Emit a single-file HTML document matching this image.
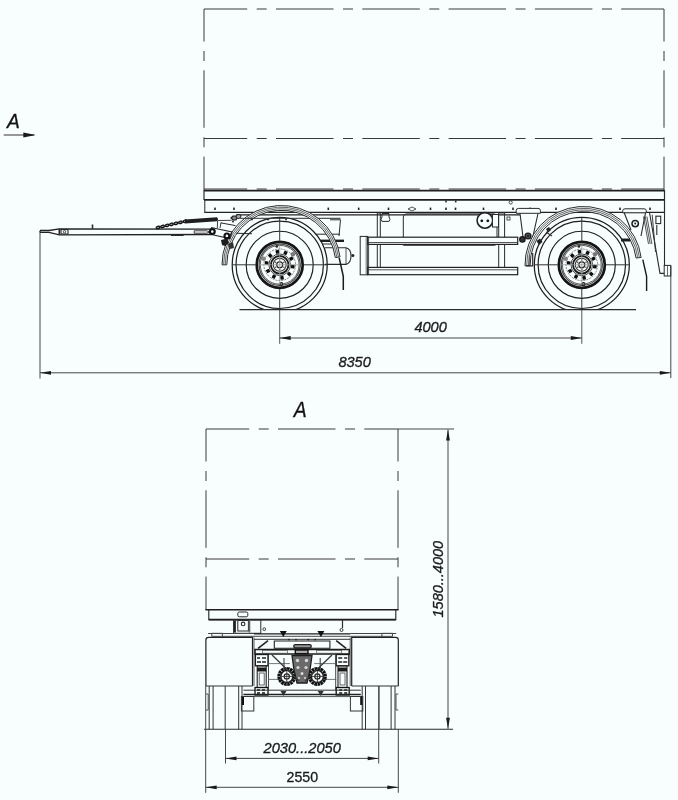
<!DOCTYPE html>
<html><head><meta charset="utf-8"><style>
html,body{margin:0;padding:0;background:#f8fdfd;}
svg{display:block;font-family:"Liberation Sans",sans-serif;will-change:transform;}
</style></head><body>
<svg width="678" height="800" viewBox="0 0 678 800">
<defs><clipPath id="gnd"><rect x="0" y="0" width="678" height="309.6"/></clipPath><clipPath id="gnd2"><rect x="0" y="0" width="678" height="729.3"/></clipPath></defs>
<line x1="204" y1="9" x2="664" y2="9" stroke="#3a3a3a" stroke-width="1" stroke-dasharray="57.5 9.5 10 9.3" stroke-dashoffset="14.3"/>
<line x1="204" y1="138.5" x2="664" y2="138.5" stroke="#3a3a3a" stroke-width="1" stroke-dasharray="57.5 9.5 10 9.3" stroke-dashoffset="14.3"/>
<line x1="204" y1="189" x2="664" y2="189" stroke="#3a3a3a" stroke-width="1" stroke-dasharray="57.5 9.5 10 9.3" stroke-dashoffset="14.3"/>
<line x1="204" y1="9" x2="204" y2="190" stroke="#3a3a3a" stroke-width="1" stroke-dasharray="57.5 9.5 10 9.3" stroke-dashoffset="25"/>
<line x1="664" y1="9" x2="664" y2="190" stroke="#3a3a3a" stroke-width="1" stroke-dasharray="57.5 9.5 10 9.3" stroke-dashoffset="25"/>
<line x1="204" y1="190.6" x2="664.5" y2="190.6" stroke="#1e1e1e" stroke-width="1.7" />
<line x1="204" y1="199.8" x2="664.5" y2="199.8" stroke="#1e1e1e" stroke-width="1.7" />
<line x1="204.5" y1="212.4" x2="664.5" y2="212.4" stroke="#222" stroke-width="1.4" />
<line x1="204" y1="190" x2="204" y2="200" stroke="#2a2a2a" stroke-width="1.2" />
<line x1="204.8" y1="200" x2="204.8" y2="212.8" stroke="#2a2a2a" stroke-width="1" />
<line x1="664.5" y1="190" x2="664.5" y2="212.8" stroke="#2a2a2a" stroke-width="1.2" />
<rect x="214.2" y="207.6" width="1.6" height="2.4" fill="#222"/>
<rect x="233.2" y="207.6" width="1.6" height="2.4" fill="#222"/>
<rect x="327.5" y="207.6" width="1.6" height="2.4" fill="#222"/>
<rect x="357.9" y="207.6" width="1.6" height="2.4" fill="#222"/>
<rect x="387.7" y="207.6" width="1.6" height="2.4" fill="#222"/>
<rect x="429.7" y="207.6" width="1.6" height="2.4" fill="#222"/>
<rect x="445.2" y="207.6" width="1.6" height="2.4" fill="#222"/>
<rect x="454.7" y="207.6" width="1.6" height="2.4" fill="#222"/>
<rect x="482.7" y="207.6" width="1.6" height="2.4" fill="#222"/>
<rect x="512.2" y="207.6" width="1.6" height="2.4" fill="#222"/>
<rect x="529.2" y="207.6" width="1.6" height="2.4" fill="#222"/>
<rect x="555.2" y="207.6" width="1.6" height="2.4" fill="#222"/>
<rect x="619.2" y="207.6" width="1.6" height="2.4" fill="#222"/>
<rect x="649.2" y="207.6" width="1.6" height="2.4" fill="#222"/>
<path d="M408,209 L412,207 L416,209 L412,211 Z" stroke="#2a2a2a" stroke-width="0.8" fill="none" />
<rect x="445.2" y="200.6" width="1.6" height="1.8" fill="#222"/>
<rect x="454.9" y="200.6" width="1.6" height="1.8" fill="#222"/>
<circle cx="510.7" cy="202.5" r="1.6" stroke="#2a2a2a" stroke-width="0.8" fill="none" />
<circle cx="279.7" cy="264.8" r="47.5" stroke="#1e1e1e" stroke-width="1.25" fill="none" clip-path="url(#gnd)"/>
<circle cx="279.7" cy="264.8" r="43.7" stroke="#1e1e1e" stroke-width="1.2" fill="none" />
<circle cx="279.7" cy="264.8" r="33.5" stroke="#1e1e1e" stroke-width="1.15" fill="none" />
<circle cx="279.7" cy="264.8" r="23" stroke="#151515" stroke-width="2.7" fill="none" />
<circle cx="279.7" cy="264.8" r="20.6" stroke="#444" stroke-width="1.2" fill="none" />
<circle cx="279.7" cy="264.8" r="19.4" stroke="#333" stroke-width="0.8" fill="none" />
<circle cx="279.7" cy="264.8" r="15.8" stroke="#555" stroke-width="0.7" fill="none" stroke-dasharray="2 1"/>
<circle cx="279.7" cy="264.8" r="10.8" stroke="#333" stroke-width="0.9" fill="none" />
<rect x="290.97" y="264.94" width="3.6" height="3.4" rx="0.6" fill="#0e0e0e" transform="rotate(8 292.77 266.64)"/>
<rect x="287.4" y="272.27" width="3.6" height="3.4" rx="0.6" fill="#0e0e0e" transform="rotate(44 289.2 273.97)"/>
<rect x="280.19" y="276.1" width="3.6" height="3.4" rx="0.6" fill="#0e0e0e" transform="rotate(80 281.99 277.8)"/>
<rect x="272.11" y="274.96" width="3.6" height="3.4" rx="0.6" fill="#0e0e0e" transform="rotate(116 273.91 276.66)"/>
<rect x="266.25" y="269.3" width="3.6" height="3.4" rx="0.6" fill="#0e0e0e" transform="rotate(152 268.05 271)"/>
<rect x="264.83" y="261.26" width="3.6" height="3.4" rx="0.6" fill="#0e0e0e" transform="rotate(188 266.63 262.96)"/>
<rect x="268.4" y="253.93" width="3.6" height="3.4" rx="0.6" fill="#0e0e0e" transform="rotate(224 270.2 255.63)"/>
<rect x="275.61" y="250.1" width="3.6" height="3.4" rx="0.6" fill="#0e0e0e" transform="rotate(260 277.41 251.8)"/>
<rect x="283.69" y="251.24" width="3.6" height="3.4" rx="0.6" fill="#0e0e0e" transform="rotate(296 285.49 252.94)"/>
<rect x="289.55" y="256.9" width="3.6" height="3.4" rx="0.6" fill="#0e0e0e" transform="rotate(332 291.35 258.6)"/>
<circle cx="279.7" cy="264.8" r="8.8" stroke="#1a1a1a" stroke-width="1.9" fill="none" />
<circle cx="279.7" cy="264.8" r="6.5" stroke="#333" stroke-width="1.1" fill="none" />
<circle cx="279.7" cy="264.8" r="3" stroke="#222" stroke-width="1.2" fill="#f8fdfd" />
<circle cx="283.86" cy="267.2" r="0.8" stroke="none" stroke-width="0" fill="#555" />
<circle cx="279.7" cy="269.6" r="0.8" stroke="none" stroke-width="0" fill="#555" />
<circle cx="275.54" cy="267.2" r="0.8" stroke="none" stroke-width="0" fill="#555" />
<circle cx="275.54" cy="262.4" r="0.8" stroke="none" stroke-width="0" fill="#555" />
<circle cx="279.7" cy="260" r="0.8" stroke="none" stroke-width="0" fill="#555" />
<circle cx="283.86" cy="262.4" r="0.8" stroke="none" stroke-width="0" fill="#555" />
<circle cx="276.8" cy="246.5" r="1.3" stroke="none" stroke-width="0" fill="#222" />
<circle cx="281.4" cy="284.1" r="1.5" stroke="#222" stroke-width="1.1" fill="none" />
<circle cx="292.9" cy="254.2" r="2.2" stroke="none" stroke-width="0" fill="#777" />
<circle cx="263.7" cy="258.8" r="2.2" stroke="none" stroke-width="0" fill="#888" />
<line x1="232.2" y1="264.8" x2="255.7" y2="264.8" stroke="#333" stroke-width="1" />
<line x1="303.7" y1="264.8" x2="327.2" y2="264.8" stroke="#333" stroke-width="1" />
<line x1="279.7" y1="217.8" x2="279.7" y2="240.8" stroke="#333" stroke-width="1" />
<line x1="279.7" y1="288.8" x2="279.7" y2="309.3" stroke="#333" stroke-width="1" />
<line x1="279.7" y1="309.3" x2="279.7" y2="343.8" stroke="#555" stroke-width="1" />
<line x1="259.7" y1="264.8" x2="299.7" y2="264.8" stroke="#999" stroke-width="0.8" />
<line x1="279.7" y1="244.8" x2="279.7" y2="284.8" stroke="#999" stroke-width="0.8" />
<circle cx="581.8" cy="264.8" r="47.5" stroke="#1e1e1e" stroke-width="1.25" fill="none" clip-path="url(#gnd)"/>
<circle cx="581.8" cy="264.8" r="43.7" stroke="#1e1e1e" stroke-width="1.2" fill="none" />
<circle cx="581.8" cy="264.8" r="33.5" stroke="#1e1e1e" stroke-width="1.15" fill="none" />
<circle cx="581.8" cy="264.8" r="23" stroke="#151515" stroke-width="2.7" fill="none" />
<circle cx="581.8" cy="264.8" r="20.6" stroke="#444" stroke-width="1.2" fill="none" />
<circle cx="581.8" cy="264.8" r="19.4" stroke="#333" stroke-width="0.8" fill="none" />
<circle cx="581.8" cy="264.8" r="15.8" stroke="#555" stroke-width="0.7" fill="none" stroke-dasharray="2 1"/>
<circle cx="581.8" cy="264.8" r="10.8" stroke="#333" stroke-width="0.9" fill="none" />
<rect x="593.07" y="264.94" width="3.6" height="3.4" rx="0.6" fill="#0e0e0e" transform="rotate(8 594.87 266.64)"/>
<rect x="589.5" y="272.27" width="3.6" height="3.4" rx="0.6" fill="#0e0e0e" transform="rotate(44 591.3 273.97)"/>
<rect x="582.29" y="276.1" width="3.6" height="3.4" rx="0.6" fill="#0e0e0e" transform="rotate(80 584.09 277.8)"/>
<rect x="574.21" y="274.96" width="3.6" height="3.4" rx="0.6" fill="#0e0e0e" transform="rotate(116 576.01 276.66)"/>
<rect x="568.35" y="269.3" width="3.6" height="3.4" rx="0.6" fill="#0e0e0e" transform="rotate(152 570.15 271)"/>
<rect x="566.93" y="261.26" width="3.6" height="3.4" rx="0.6" fill="#0e0e0e" transform="rotate(188 568.73 262.96)"/>
<rect x="570.5" y="253.93" width="3.6" height="3.4" rx="0.6" fill="#0e0e0e" transform="rotate(224 572.3 255.63)"/>
<rect x="577.71" y="250.1" width="3.6" height="3.4" rx="0.6" fill="#0e0e0e" transform="rotate(260 579.51 251.8)"/>
<rect x="585.79" y="251.24" width="3.6" height="3.4" rx="0.6" fill="#0e0e0e" transform="rotate(296 587.59 252.94)"/>
<rect x="591.65" y="256.9" width="3.6" height="3.4" rx="0.6" fill="#0e0e0e" transform="rotate(332 593.45 258.6)"/>
<circle cx="581.8" cy="264.8" r="8.8" stroke="#1a1a1a" stroke-width="1.9" fill="none" />
<circle cx="581.8" cy="264.8" r="6.5" stroke="#333" stroke-width="1.1" fill="none" />
<circle cx="581.8" cy="264.8" r="3" stroke="#222" stroke-width="1.2" fill="#f8fdfd" />
<circle cx="585.96" cy="267.2" r="0.8" stroke="none" stroke-width="0" fill="#555" />
<circle cx="581.8" cy="269.6" r="0.8" stroke="none" stroke-width="0" fill="#555" />
<circle cx="577.64" cy="267.2" r="0.8" stroke="none" stroke-width="0" fill="#555" />
<circle cx="577.64" cy="262.4" r="0.8" stroke="none" stroke-width="0" fill="#555" />
<circle cx="581.8" cy="260" r="0.8" stroke="none" stroke-width="0" fill="#555" />
<circle cx="585.96" cy="262.4" r="0.8" stroke="none" stroke-width="0" fill="#555" />
<circle cx="578.9" cy="246.5" r="1.3" stroke="none" stroke-width="0" fill="#222" />
<circle cx="583.5" cy="284.1" r="1.5" stroke="#222" stroke-width="1.1" fill="none" />
<circle cx="595" cy="254.2" r="2.2" stroke="none" stroke-width="0" fill="#777" />
<circle cx="565.8" cy="258.8" r="2.2" stroke="none" stroke-width="0" fill="#888" />
<line x1="534.3" y1="264.8" x2="557.8" y2="264.8" stroke="#333" stroke-width="1" />
<line x1="605.8" y1="264.8" x2="629.3" y2="264.8" stroke="#333" stroke-width="1" />
<line x1="581.8" y1="217.8" x2="581.8" y2="240.8" stroke="#333" stroke-width="1" />
<line x1="581.8" y1="288.8" x2="581.8" y2="309.3" stroke="#333" stroke-width="1" />
<line x1="581.8" y1="309.3" x2="581.8" y2="343.8" stroke="#555" stroke-width="1" />
<line x1="561.8" y1="264.8" x2="601.8" y2="264.8" stroke="#999" stroke-width="0.8" />
<line x1="581.8" y1="244.8" x2="581.8" y2="284.8" stroke="#999" stroke-width="0.8" />
<line x1="239.5" y1="309.6" x2="636" y2="309.6" stroke="#2a2a2a" stroke-width="1.1" />
<line x1="40" y1="231" x2="40" y2="378.5" stroke="#474747" stroke-width="1" />
<line x1="670.8" y1="266" x2="670.8" y2="378" stroke="#474747" stroke-width="1" />
<line x1="40" y1="372.8" x2="670.8" y2="372.8" stroke="#474747" stroke-width="1" />
<path d="M40,372.8 L51,370.9 L51,374.7 Z" fill="#1a1a1a"/>
<path d="M670.8,372.8 L659.8,374.7 L659.8,370.9 Z" fill="#1a1a1a"/>
<line x1="279.7" y1="338" x2="581.8" y2="338" stroke="#474747" stroke-width="1" />
<path d="M279.7,338 L290.7,336.1 L290.7,339.9 Z" fill="#1a1a1a"/>
<path d="M581.8,338 L570.8,339.9 L570.8,336.1 Z" fill="#1a1a1a"/>
<line x1="236" y1="214.8" x2="520" y2="214.8" stroke="#222" stroke-width="1.2" />
<line x1="300" y1="218.3" x2="340.5" y2="218.3" stroke="#2a2a2a" stroke-width="1" />
<path d="M330,219.8 L340.5,219.8 L339,236" stroke="#2a2a2a" stroke-width="1" fill="none" />
<line x1="315.5" y1="234.2" x2="340" y2="234.2" stroke="#2a2a2a" stroke-width="1" />
<line x1="320.5" y1="240.8" x2="344" y2="240.8" stroke="#1e1e1e" stroke-width="2.4" />
<line x1="322.4" y1="244" x2="333" y2="244" stroke="#2a2a2a" stroke-width="1" />
<path d="M325,247.8 L346,247.8 Q351,249 351,256 Q351,263 346,264.4 L325,264.4" stroke="#2a2a2a" stroke-width="1.1" fill="none" />
<line x1="346" y1="248" x2="346" y2="264.2" stroke="#2a2a2a" stroke-width="0.8" />
<circle cx="352.9" cy="255.5" r="1.5" stroke="none" stroke-width="0" fill="#222" />
<path d="M339.2,258 Q341,266 343.3,276.3 L343.3,290" stroke="#1a1a1a" stroke-width="1.5" fill="none" />
<rect x="377.3" y="213" width="3" height="54.5" stroke="#2a2a2a" stroke-width="1" fill="none" />
<rect x="498.7" y="213" width="5.9" height="54.5" stroke="#2a2a2a" stroke-width="1" fill="none" />
<path d="M382,213.5 L389,213.5 L389,217 Q391,219.5 389,221.4 L382,221.4 Q380,219.5 382,217 Z" stroke="#2a2a2a" stroke-width="1" fill="none" />
<path d="M403.3,245.3 L403.3,217 Q403.3,213.9 406.5,213.9 L494,213.9 Q497,213.9 497,217 L497,243 Q497,245.3 494,245.3 Z" stroke="#2a2a2a" stroke-width="1" fill="none" />
<circle cx="484.9" cy="220.4" r="7.8" stroke="#222" stroke-width="1.6" fill="#f8fdfd" />
<circle cx="481.8" cy="220.8" r="1.4" stroke="none" stroke-width="0" fill="#111" />
<circle cx="487.8" cy="220.8" r="1.4" stroke="none" stroke-width="0" fill="#111" />
<rect x="492.5" y="214.5" width="6" height="12.5" stroke="#2a2a2a" stroke-width="1" fill="#f8fdfd" />
<rect x="507" y="217" width="3" height="3" stroke="#2a2a2a" stroke-width="0.8" fill="none" />
<rect x="360.2" y="236.4" width="7.5" height="38.4" stroke="#2a2a2a" stroke-width="1" fill="#f8fdfd" />
<line x1="366.2" y1="236.6" x2="366.2" y2="274.6" stroke="#2a2a2a" stroke-width="0.7" />
<rect x="367.7" y="237.2" width="150" height="7.2" stroke="#222" stroke-width="1.2" fill="#f8fdfd" />
<line x1="367.7" y1="242.5" x2="517.7" y2="242.5" stroke="#2a2a2a" stroke-width="0.8" />
<rect x="367.7" y="267.4" width="150" height="7.3" stroke="#222" stroke-width="1.2" fill="#f8fdfd" />
<line x1="367.7" y1="269.8" x2="517.7" y2="269.8" stroke="#2a2a2a" stroke-width="0.8" />
<line x1="368.6" y1="237" x2="368.6" y2="274.7" stroke="#2a2a2a" stroke-width="0.8" />
<path d="M516.2,213.3 L516.2,210.5 Q516.2,208.4 518.5,208.4 L538,208.4 Q540.4,208.4 540.4,210.5 L540.4,213.3 Z" stroke="#2a2a2a" stroke-width="1" fill="#f8fdfd" />
<path d="M520,213.5 L523,237 M538,213.5 L533,236" stroke="#2a2a2a" stroke-width="1.1" fill="none" />
<circle cx="522.4" cy="239.4" r="2.6" stroke="#1a1a1a" stroke-width="1.4" fill="#333" />
<circle cx="528" cy="236" r="2.9" stroke="#1a1a1a" stroke-width="1.4" fill="#555" />
<circle cx="528" cy="236" r="1" stroke="none" stroke-width="0" fill="#111" />
<path d="M622.7,212.8 L622.7,210.8 Q622.7,208.8 625,208.8 L644,208.8 Q646.3,208.8 646.3,210.8 L646.3,212.8 Z" stroke="#2a2a2a" stroke-width="1" fill="#f8fdfd" />
<path d="M624.2,212.8 L631,230 M645.5,212.8 L641,236" stroke="#2a2a2a" stroke-width="1.1" fill="none" />
<circle cx="635.2" cy="223.6" r="3.2" stroke="#1e1e1e" stroke-width="1.5" fill="none" />
<circle cx="635.2" cy="223.6" r="1" stroke="none" stroke-width="0" fill="#222" />
<path d="M536.5,241 L540,238.5 L542.5,242 L539,245 Z" stroke="none" stroke-width="0" fill="#222" />
<path d="M546,229 L549,227 L551,230 L548,232.5 Z" stroke="none" stroke-width="0" fill="#222" />
<line x1="546" y1="232" x2="552" y2="236" stroke="#333" stroke-width="1.2" />
<line x1="621" y1="240" x2="630" y2="240" stroke="#1e1e1e" stroke-width="3" />
<path d="M643.5,216.5 L648.5,244 M645.2,216.5 L650.2,244 M646.9,216.5 L651.9,244" stroke="#444" stroke-width="0.9" fill="none" />
<path d="M649.5,212.5 L660,273.4 L664.2,273.4" stroke="#2a2a2a" stroke-width="1.1" fill="none" />
<line x1="652.2" y1="214.7" x2="655.5" y2="252" stroke="#2a2a2a" stroke-width="0.9" />
<line x1="664.5" y1="212.5" x2="664.5" y2="266" stroke="#2a2a2a" stroke-width="1.1" />
<rect x="664.2" y="265.4" width="6.6" height="10.6" stroke="#2a2a2a" stroke-width="1" fill="none" />
<line x1="667.5" y1="266" x2="667.5" y2="276" stroke="#2a2a2a" stroke-width="0.7" />
<rect x="655.9" y="216.2" width="4.8" height="7.4" stroke="#2a2a2a" stroke-width="1.1" fill="none" />
<line x1="656.8" y1="225" x2="656.8" y2="235" stroke="#2a2a2a" stroke-width="1.1" />
<path d="M642.8,259.6 L646.6,276.3 L646.6,291" stroke="#1a1a1a" stroke-width="1.4" fill="none" />
<path d="M222,264.8 A59.3,59.3 0 0 1 340.08,256.96 L335.32,257.59 A54.5,54.5 0 0 0 226.8,264.8 Z" stroke="#2a2a2a" stroke-width="1.0" fill="#f8fdfd" />
<path d="M223.6,264.8 A57.7,57.7 0 0 1 338.49,257.17" stroke="#555" stroke-width="0.9" fill="none" />
<path d="M225.2,264.8 A56.1,56.1 0 0 1 336.91,257.38" stroke="#555" stroke-width="0.9" fill="none" />
<path d="M525.01,265.82 A58.3,58.3 0 0 1 641.13,257.39 L636.07,258.04 A53.2,53.2 0 0 0 530.11,265.73 Z" stroke="#2a2a2a" stroke-width="1.0" fill="#f8fdfd" />
<path d="M526.71,265.79 A56.6,56.6 0 0 1 639.44,257.61" stroke="#555" stroke-width="0.9" fill="none" />
<path d="M528.41,265.76 A54.9,54.9 0 0 1 637.76,257.82" stroke="#555" stroke-width="0.9" fill="none" />
<path d="M526.1,265.8 L532.7,265.8 L532.7,253" stroke="#2a2a2a" stroke-width="1.2" fill="none" />
<line x1="529.5" y1="254" x2="529.5" y2="265" stroke="#555" stroke-width="0.8" />
<path d="M40,230.5 L49,230.5 L59.3,228.8 L212,229.2" stroke="#222" stroke-width="1.3" fill="none" />
<path d="M40,232.4 L49,232.4 L59.3,234.8 L212,234.5" stroke="#222" stroke-width="1.3" fill="none" />
<line x1="40" y1="230.5" x2="40" y2="232.4" stroke="#2a2a2a" stroke-width="1" />
<line x1="59.3" y1="228.7" x2="59.3" y2="234.9" stroke="#2a2a2a" stroke-width="1.6" />
<rect x="61" y="229.6" width="7" height="4.4" stroke="#2a2a2a" stroke-width="1.1" fill="none" />
<circle cx="64.5" cy="231.8" r="1.2" stroke="#2a2a2a" stroke-width="0.8" fill="none" />
<line x1="92.5" y1="224.5" x2="92.5" y2="228.7" stroke="#2a2a2a" stroke-width="1.6" />
<line x1="171" y1="235.2" x2="183.6" y2="235.2" stroke="#2a2a2a" stroke-width="1.6" />
<path d="M194.2,230.8 L206.6,230.8 L209.7,232 L206.6,233.2 L194.2,233.2 Z" stroke="#2a2a2a" stroke-width="0.9" fill="none" />
<ellipse cx="158" cy="227.5" rx="1.9" ry="1.2" transform="rotate(-13 158 227.5)" stroke="#111" stroke-width="1.3" fill="#999"/>
<ellipse cx="162.5" cy="226.47" rx="1.9" ry="1.2" transform="rotate(-13 162.5 226.47)" stroke="#111" stroke-width="1.3" fill="#999"/>
<ellipse cx="167" cy="225.43" rx="1.9" ry="1.2" transform="rotate(-13 167 225.43)" stroke="#111" stroke-width="1.3" fill="#999"/>
<ellipse cx="171.5" cy="224.4" rx="1.9" ry="1.2" transform="rotate(-13 171.5 224.4)" stroke="#111" stroke-width="1.3" fill="#999"/>
<ellipse cx="176" cy="223.37" rx="1.9" ry="1.2" transform="rotate(-13 176 223.37)" stroke="#111" stroke-width="1.3" fill="#999"/>
<ellipse cx="180.5" cy="222.33" rx="1.9" ry="1.2" transform="rotate(-13 180.5 222.33)" stroke="#111" stroke-width="1.3" fill="#999"/>
<ellipse cx="185" cy="221.3" rx="1.9" ry="1.2" transform="rotate(-13 185 221.3)" stroke="#111" stroke-width="1.3" fill="#999"/>
<path d="M185,219.5 L217,217.2 Q219,219.3 217,221.3 L185,223.5 Z" stroke="none" stroke-width="0" fill="#1e1e1e" />
<line x1="217.6" y1="220.5" x2="231.5" y2="220.3" stroke="#2a2a2a" stroke-width="0.9" />
<line x1="217.6" y1="221" x2="217.3" y2="228" stroke="#2a2a2a" stroke-width="0.9" />
<line x1="221" y1="222.5" x2="220" y2="228" stroke="#2a2a2a" stroke-width="0.9" />
<path d="M211,227.5 L232,232 L230,238.5 L209,234" stroke="#2a2a2a" stroke-width="1.1" fill="none" />
<line x1="220.9" y1="222.9" x2="235.5" y2="225.6" stroke="#2a2a2a" stroke-width="1" />
<line x1="236.2" y1="233.2" x2="252" y2="233.8" stroke="#2a2a2a" stroke-width="1.1" />
<circle cx="212.3" cy="231.6" r="2.4" stroke="#111" stroke-width="2.2" fill="none" />
<circle cx="226.9" cy="235.9" r="2.4" stroke="#111" stroke-width="2.2" fill="none" />
<path d="M231,218 l2,-2 l3,0 l1,2 l-1,2 l-3,0 Z" stroke="#1e1e1e" stroke-width="1.2" fill="#888" />
<path d="M236,216 l2,-1.5 l2.5,0.5 l0.5,2 l-2,1.5 l-2.5,-0.5 Z" stroke="#1e1e1e" stroke-width="1" fill="#aaa" />
<circle cx="233" cy="221.5" r="1" stroke="none" stroke-width="0" fill="#222" />
<path d="M221,240 L227,238.5 L229,243 L225,246 L222,245 Z" stroke="none" stroke-width="0" fill="#1e1e1e" />
<path d="M228,244 L233,242 L234,248 L230,249 Z" stroke="none" stroke-width="0" fill="#333" />
<line x1="240" y1="218.3" x2="300" y2="218.3" stroke="#333" stroke-width="1" />
<circle cx="252" cy="219.5" r="0.9" stroke="none" stroke-width="0" fill="#222" />
<circle cx="268" cy="219.5" r="0.9" stroke="none" stroke-width="0" fill="#222" />
<circle cx="286" cy="219.5" r="0.9" stroke="none" stroke-width="0" fill="#222" />
<line x1="3.7" y1="135" x2="34" y2="135" stroke="#555" stroke-width="1.2" />
<path d="M35.8,135 L23.3,137.4 L23.3,132.6 Z" fill="#1a1a1a"/>
<text transform="translate(7,127.9) scale(0.93,1)" font-size="20.6" font-style="italic" fill="#111" stroke="#111" stroke-width="0.3">A</text>
<text x="414.4" y="332.1" font-size="14.6" font-style="italic" fill="#1a1a1a" stroke="#1a1a1a" stroke-width="0.3">4000</text>
<text x="338.4" y="367.3" font-size="14.6" font-style="italic" fill="#1a1a1a" stroke="#1a1a1a" stroke-width="0.3">8350</text>
<line x1="206" y1="429" x2="398" y2="429" stroke="#3a3a3a" stroke-width="1" stroke-dasharray="57.5 9.5 10 9.3" stroke-dashoffset="14.3"/>
<line x1="398" y1="429" x2="454" y2="429" stroke="#474747" stroke-width="1" />
<line x1="206" y1="559" x2="398" y2="559" stroke="#3a3a3a" stroke-width="1" stroke-dasharray="57.5 9.5 10 9.3" stroke-dashoffset="14.3"/>
<line x1="206" y1="429" x2="206" y2="610" stroke="#3a3a3a" stroke-width="1" stroke-dasharray="57.5 9.5 10 9.3" stroke-dashoffset="25"/>
<line x1="398" y1="429" x2="398" y2="610" stroke="#3a3a3a" stroke-width="1" stroke-dasharray="57.5 9.5 10 9.3" stroke-dashoffset="25"/>
<line x1="205.5" y1="609.7" x2="398.5" y2="609.7" stroke="#1e1e1e" stroke-width="1.5" />
<path d="M208.8,610 L208.8,619.7 L395.8,619.7 L395.8,610" stroke="#222" stroke-width="1.1" fill="none" />
<line x1="208.8" y1="619.7" x2="395.8" y2="619.7" stroke="#1e1e1e" stroke-width="1.7" />
<rect x="237.8" y="612" width="10" height="4.8" stroke="#2a2a2a" stroke-width="1" fill="none" rx="1.5"/>
<rect x="233.6" y="619.7" width="27.2" height="13.6" stroke="#2a2a2a" stroke-width="1" fill="none" />
<line x1="234.8" y1="620.5" x2="234.8" y2="632.5" stroke="#222" stroke-width="2.2" />
<rect x="237.8" y="620.5" width="10.6" height="10.5" stroke="#2a2a2a" stroke-width="1" fill="none" />
<circle cx="243.1" cy="623.9" r="1.8" stroke="#2a2a2a" stroke-width="1.1" fill="none" />
<line x1="249.5" y1="620.5" x2="249.5" y2="632.5" stroke="#666" stroke-width="1.6" />
<circle cx="264.3" cy="629.2" r="1.4" stroke="#2a2a2a" stroke-width="0.9" fill="none" />
<line x1="342.5" y1="619.7" x2="342.5" y2="628" stroke="#2a2a2a" stroke-width="1.2" />
<circle cx="341.5" cy="630" r="1.5" stroke="#2a2a2a" stroke-width="0.9" fill="none" />
<g><path d="M205.9,686 L205.9,640 Q205.9,637.4 208.5,637.4 L252.5,637.4 L252.5,686" stroke="#222" stroke-width="1.2" fill="none"/><line x1="254" y1="637.4" x2="254" y2="686" stroke="#333" stroke-width="0.8"/><rect x="211.8" y="633.3" width="10.5" height="3" stroke="#333" stroke-width="0.9" fill="none"/><line x1="222" y1="636.3" x2="302.1" y2="636.3" stroke="#333" stroke-width="0.9"/><line x1="208" y1="633.5" x2="254" y2="633.5" stroke="#444" stroke-width="1"/><line x1="254" y1="633.9" x2="302.2" y2="633.9" stroke="#1e1e1e" stroke-width="1.4"/><path d="M279.8,631 L286.8,631 L283.3,637 Z" fill="#111"/><line x1="254" y1="639.3" x2="302.2" y2="639.3" stroke="#333" stroke-width="1"/><circle cx="289" cy="639.6" r="0.9" fill="#222"/><circle cx="296" cy="639.6" r="0.9" fill="#222"/><path d="M302.2,641 L274.3,641 L274.3,648.3 L302.2,648.3" stroke="#222" stroke-width="1.1" fill="none"/><line x1="258.1" y1="648.3" x2="268" y2="640.6" stroke="#222" stroke-width="1.6"/><path d="M302.2,649.6 L255,649.6 L255,654.1 L302.2,654.1" stroke="#1a1a1a" stroke-width="1.5" fill="none"/><rect x="262.5" y="650.5" width="25" height="2.7" stroke="#555" stroke-width="0.7" fill="none"/><rect x="255.4" y="654.5" width="12.6" height="11.3" stroke="#1a1a1a" stroke-width="1.3" fill="none"/><path d="M257,658 h3 M262,658 h4 M257,662 h4 M262,662 h4" stroke="#222" stroke-width="1.6"/><rect x="257.2" y="665.8" width="9" height="21.7" stroke="#222" stroke-width="1.1" fill="none"/><rect x="257.2" y="667.5" width="9" height="4" fill="#1a1a1a"/><rect x="259.2" y="673" width="5" height="12" stroke="#444" stroke-width="0.8" fill="none"/><rect x="255" y="687.5" width="13" height="7.5" stroke="#111" stroke-width="1.3" fill="none"/><path d="M257,690 h3 M262,690 h3 M257,693 h3 M262,693 h3" stroke="#111" stroke-width="1.5"/><line x1="268.5" y1="655" x2="268.5" y2="690" stroke="#333" stroke-width="0.9"/><line x1="268" y1="663.6" x2="290" y2="663.6" stroke="#555" stroke-width="0.8"/><line x1="268" y1="679.4" x2="280" y2="679.4" stroke="#555" stroke-width="0.8"/><line x1="243.4" y1="690.2" x2="302.2" y2="690.2" stroke="#333" stroke-width="1"/><line x1="243.4" y1="694.5" x2="302.2" y2="694.5" stroke="#222" stroke-width="1.3"/><path d="M280.5,691 L286.5,691 L283.5,696 Z" fill="#333"/><line x1="254" y1="696.6" x2="302.1" y2="696.6" stroke="#444" stroke-width="0.9"/><circle cx="286.8" cy="676.4" r="7.9" stroke="#111" stroke-width="3.2" fill="none" stroke-dasharray="2.6 0.5"/><circle cx="286.8" cy="676.4" r="6" stroke="#1a1a1a" stroke-width="1.4" fill="none"/><circle cx="286.8" cy="676.4" r="2.6" stroke="#222" stroke-width="1.2" fill="none"/><path d="M286.8,671 v11 M281.2,676.4 h11" stroke="#333" stroke-width="0.9"/><path d="M284,658 L284,670" stroke="#333" stroke-width="1"/><line x1="209.2" y1="686" x2="209.2" y2="729.3" stroke="#333" stroke-width="1"/><line x1="213.1" y1="686" x2="213.1" y2="729.3" stroke="#333" stroke-width="1"/><line x1="225.2" y1="686" x2="225.2" y2="729.3" stroke="#333" stroke-width="1"/><line x1="238.7" y1="686" x2="238.7" y2="729.3" stroke="#333" stroke-width="1"/><line x1="242" y1="686" x2="242" y2="729.3" stroke="#333" stroke-width="1"/><line x1="205.9" y1="686" x2="252.5" y2="686" stroke="#333" stroke-width="1"/><path d="M205.9,694 L208.2,694 L208.2,710 L205.9,710" stroke="#444" stroke-width="0.9" fill="none"/><rect x="241.4" y="696.5" width="12.4" height="14.5" stroke="#333" stroke-width="1" fill="none"/><path d="M243,697 L243,705" stroke="#111" stroke-width="2"/></g>
<g transform="translate(604.2,0) scale(-1,1)"><path d="M205.9,686 L205.9,640 Q205.9,637.4 208.5,637.4 L252.5,637.4 L252.5,686" stroke="#222" stroke-width="1.2" fill="none"/><line x1="254" y1="637.4" x2="254" y2="686" stroke="#333" stroke-width="0.8"/><rect x="211.8" y="633.3" width="10.5" height="3" stroke="#333" stroke-width="0.9" fill="none"/><line x1="222" y1="636.3" x2="302.1" y2="636.3" stroke="#333" stroke-width="0.9"/><line x1="208" y1="633.5" x2="254" y2="633.5" stroke="#444" stroke-width="1"/><line x1="254" y1="633.9" x2="302.2" y2="633.9" stroke="#1e1e1e" stroke-width="1.4"/><path d="M279.8,631 L286.8,631 L283.3,637 Z" fill="#111"/><line x1="254" y1="639.3" x2="302.2" y2="639.3" stroke="#333" stroke-width="1"/><circle cx="289" cy="639.6" r="0.9" fill="#222"/><circle cx="296" cy="639.6" r="0.9" fill="#222"/><path d="M302.2,641 L274.3,641 L274.3,648.3 L302.2,648.3" stroke="#222" stroke-width="1.1" fill="none"/><line x1="258.1" y1="648.3" x2="268" y2="640.6" stroke="#222" stroke-width="1.6"/><path d="M302.2,649.6 L255,649.6 L255,654.1 L302.2,654.1" stroke="#1a1a1a" stroke-width="1.5" fill="none"/><rect x="262.5" y="650.5" width="25" height="2.7" stroke="#555" stroke-width="0.7" fill="none"/><rect x="255.4" y="654.5" width="12.6" height="11.3" stroke="#1a1a1a" stroke-width="1.3" fill="none"/><path d="M257,658 h3 M262,658 h4 M257,662 h4 M262,662 h4" stroke="#222" stroke-width="1.6"/><rect x="257.2" y="665.8" width="9" height="21.7" stroke="#222" stroke-width="1.1" fill="none"/><rect x="257.2" y="667.5" width="9" height="4" fill="#1a1a1a"/><rect x="259.2" y="673" width="5" height="12" stroke="#444" stroke-width="0.8" fill="none"/><rect x="255" y="687.5" width="13" height="7.5" stroke="#111" stroke-width="1.3" fill="none"/><path d="M257,690 h3 M262,690 h3 M257,693 h3 M262,693 h3" stroke="#111" stroke-width="1.5"/><line x1="268.5" y1="655" x2="268.5" y2="690" stroke="#333" stroke-width="0.9"/><line x1="268" y1="663.6" x2="290" y2="663.6" stroke="#555" stroke-width="0.8"/><line x1="268" y1="679.4" x2="280" y2="679.4" stroke="#555" stroke-width="0.8"/><line x1="243.4" y1="690.2" x2="302.2" y2="690.2" stroke="#333" stroke-width="1"/><line x1="243.4" y1="694.5" x2="302.2" y2="694.5" stroke="#222" stroke-width="1.3"/><path d="M280.5,691 L286.5,691 L283.5,696 Z" fill="#333"/><line x1="254" y1="696.6" x2="302.1" y2="696.6" stroke="#444" stroke-width="0.9"/><circle cx="286.8" cy="676.4" r="7.9" stroke="#111" stroke-width="3.2" fill="none" stroke-dasharray="2.6 0.5"/><circle cx="286.8" cy="676.4" r="6" stroke="#1a1a1a" stroke-width="1.4" fill="none"/><circle cx="286.8" cy="676.4" r="2.6" stroke="#222" stroke-width="1.2" fill="none"/><path d="M286.8,671 v11 M281.2,676.4 h11" stroke="#333" stroke-width="0.9"/><path d="M284,658 L284,670" stroke="#333" stroke-width="1"/><line x1="209.2" y1="686" x2="209.2" y2="729.3" stroke="#333" stroke-width="1"/><line x1="213.1" y1="686" x2="213.1" y2="729.3" stroke="#333" stroke-width="1"/><line x1="225.2" y1="686" x2="225.2" y2="729.3" stroke="#333" stroke-width="1"/><line x1="238.7" y1="686" x2="238.7" y2="729.3" stroke="#333" stroke-width="1"/><line x1="242" y1="686" x2="242" y2="729.3" stroke="#333" stroke-width="1"/><line x1="205.9" y1="686" x2="252.5" y2="686" stroke="#333" stroke-width="1"/><path d="M205.9,694 L208.2,694 L208.2,710 L205.9,710" stroke="#444" stroke-width="0.9" fill="none"/><rect x="241.4" y="696.5" width="12.4" height="14.5" stroke="#333" stroke-width="1" fill="none"/><path d="M243,697 L243,705" stroke="#111" stroke-width="2"/></g>
<rect x="293.8" y="644.6" width="17.4" height="3.4" stroke="#1e1e1e" stroke-width="1.3" fill="#999" rx="1.5"/>
<rect x="295.3" y="650" width="12.7" height="3.7" stroke="#111" stroke-width="1.4" fill="#aaa" />
<path d="M292,655.5 L312,655.5 L310,670 L307,683 L297,683 L294,670 Z" stroke="#1e1e1e" stroke-width="1.3" fill="#6a6a6a" />
<circle cx="297.5" cy="660.5" r="1.7" stroke="none" stroke-width="0" fill="#d8d8d8" />
<circle cx="306.5" cy="660.5" r="1.7" stroke="none" stroke-width="0" fill="#d8d8d8" />
<circle cx="298" cy="667.5" r="1.6" stroke="none" stroke-width="0" fill="#d8d8d8" />
<circle cx="306" cy="667.5" r="1.6" stroke="none" stroke-width="0" fill="#d8d8d8" />
<circle cx="302" cy="673.5" r="1.5" stroke="none" stroke-width="0" fill="#d8d8d8" />
<circle cx="299" cy="678" r="1.1" stroke="none" stroke-width="0" fill="#d8d8d8" />
<circle cx="305" cy="678" r="1.1" stroke="none" stroke-width="0" fill="#d8d8d8" />
<path d="M272,655 L299,681 M332,655 L305,681" stroke="#3a3a3a" stroke-width="1.3" fill="none" />
<line x1="204" y1="729.3" x2="453" y2="729.3" stroke="#2a2a2a" stroke-width="1.1" />
<line x1="448" y1="429.5" x2="448" y2="728.8" stroke="#474747" stroke-width="1" />
<path d="M448,429.5 L449.9,440.5 L446.1,440.5 Z" fill="#1a1a1a"/>
<path d="M448,728.8 L446.1,717.8 L449.9,717.8 Z" fill="#1a1a1a"/>
<line x1="225.5" y1="729" x2="225.5" y2="763.5" stroke="#474747" stroke-width="1" />
<line x1="378.7" y1="686" x2="378.7" y2="763.5" stroke="#474747" stroke-width="1" />
<line x1="225.5" y1="758.4" x2="378.7" y2="758.4" stroke="#474747" stroke-width="1" />
<path d="M225.5,758.4 L236.5,756.5 L236.5,760.3 Z" fill="#1a1a1a"/>
<path d="M378.7,758.4 L367.7,760.3 L367.7,756.5 Z" fill="#1a1a1a"/>
<line x1="205.7" y1="686" x2="205.7" y2="792.8" stroke="#474747" stroke-width="1" />
<line x1="398.3" y1="729" x2="398.3" y2="792.8" stroke="#474747" stroke-width="1" />
<line x1="205.7" y1="787.3" x2="398.3" y2="787.3" stroke="#474747" stroke-width="1" />
<path d="M205.7,787.3 L216.7,785.4 L216.7,789.2 Z" fill="#1a1a1a"/>
<path d="M398.3,787.3 L387.3,789.2 L387.3,785.4 Z" fill="#1a1a1a"/>
<text transform="translate(293.8,416.9) scale(0.89,1)" font-size="21.8" font-style="italic" fill="#111" stroke="#111" stroke-width="0.3">A</text>
<text x="263.5" y="753.2" font-size="14.65" font-style="italic" fill="#1a1a1a" stroke="#1a1a1a" stroke-width="0.3">2030...2050</text>
<text x="286.5" y="782" font-size="14.2" fill="#1a1a1a" stroke="#1a1a1a" stroke-width="0.3">2550</text>
<text transform="translate(443.1,617.5) rotate(-90)" font-size="14.5" font-style="italic" fill="#1a1a1a" stroke="#1a1a1a" stroke-width="0.3">1580...4000</text>
</svg>
</body></html>
